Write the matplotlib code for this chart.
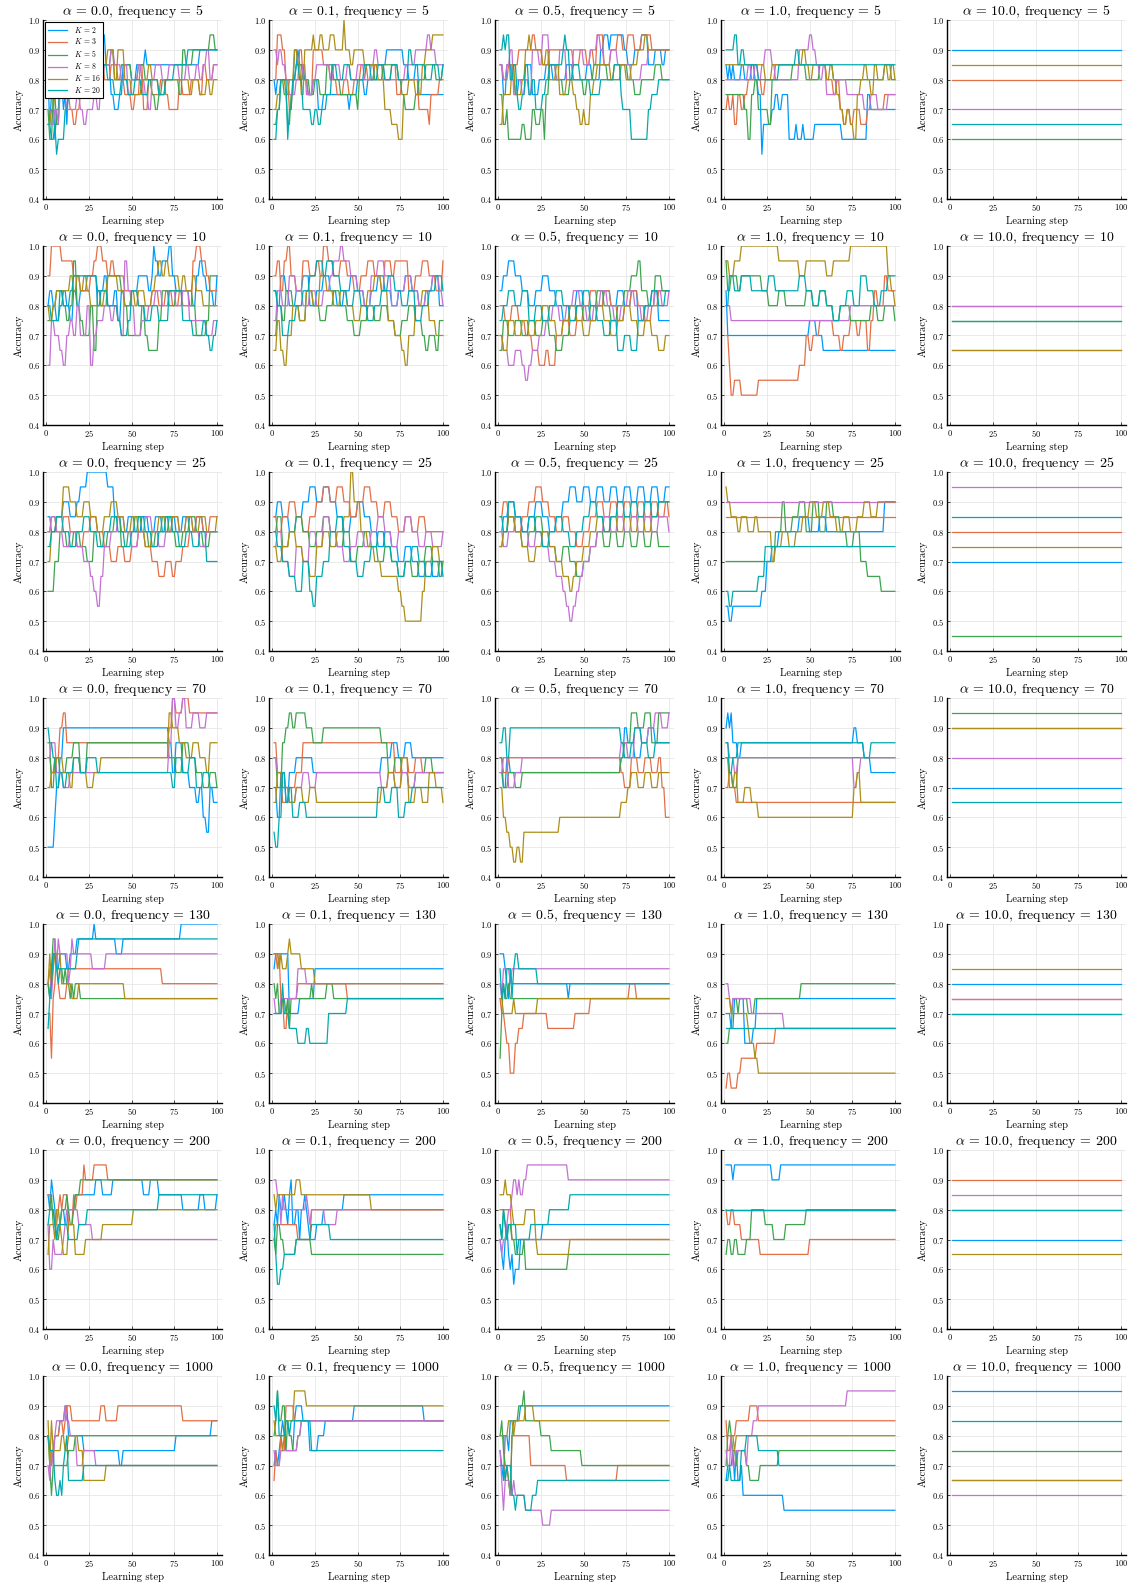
import numpy as np
import matplotlib
matplotlib.use("Agg")
import matplotlib.pyplot as plt

plt.rcParams.update({
    "font.family": "serif",
    "font.serif": ["cmr10"],
    "mathtext.fontset": "cm",
    "axes.formatter.use_mathtext": True,
})

alphas = [0.0, 0.1, 0.5, 1.0, 10.0]
frequencies = [5, 10, 25, 70, 130, 200, 1000]
K_values = [2, 3, 5, 8, 16, 20]
colors = ["#009AFA", "#E36F47", "#3EA44E", "#C371D2", "#AC8E18", "#00AAAE"]
steps = np.arange(1, 101)

# accuracy per run, as (learning step, accuracy %) change points, one list per K

# ---- frequency = 5 ----
acc_a00_f5 = [
    [(1,80),(2,65),(3,75),(5,60),(6,70),(8,80),(10,70),(11,75),(12,65),(13,80),(15,85),(20,80),(25,85),(32,90),(34,95),(35,85),(38,75),(40,70),(43,75),(45,85),(50,80),(53,85),(58,90),(59,85),(90,90)],
    [(1,75),(3,80),(5,85),(8,80),(10,75),(14,70),(16,65),(18,70),(20,75),(25,80),(28,85),(32,90),(34,80),(38,85),(42,80),(46,75),(50,70),(52,75),(55,85),(57,70),(60,80),(62,75),(67,80),(70,75),(72,70),(78,80),(80,75),(85,80),(90,75),(92,85),(94,80),(98,85)],
    [(1,70),(2,60),(4,75),(6,65),(8,80),(10,85),(14,80),(18,85),(22,80),(30,85),(38,90),(40,80),(44,85),(50,80),(54,85),(58,80),(62,75),(64,70),(66,75),(68,80),(78,75),(80,90),(82,85),(86,90),(96,95),(99,90)],
    [(1,70),(3,65),(5,70),(7,65),(8,75),(12,70),(18,75),(20,70),(22,65),(24,70),(28,75),(30,70),(32,80),(34,85),(38,90),(40,85),(44,80),(46,85),(48,75),(50,80),(54,85),(56,80),(58,75),(60,70),(62,80),(64,85),(68,80),(72,85),(78,80),(82,85),(84,80),(88,85),(90,80),(92,85),(94,90),(96,80),(98,85)],
    [(1,65),(3,70),(5,75),(8,80),(10,85),(14,80),(18,75),(22,80),(26,85),(36,90),(40,80),(42,90),(46,80),(50,75),(56,80),(60,85),(62,80),(66,75),(70,80),(84,75),(86,80),(90,75),(94,80),(96,75),(98,80)],
    [(1,65),(3,60),(5,65),(6,55),(7,60),(11,70),(13,75),(16,80),(20,85),(24,80),(32,85),(36,80),(40,75),(44,80),(48,75),(52,80),(56,75),(60,80),(66,75),(70,80),(75,85),(83,90)],
]
acc_a01_f5 = [
    [(1,80),(2,75),(3,80),(14,85),(15,90),(16,85),(19,80),(21,75),(24,80),(27,70),(30,75),(45,70),(46,75),(50,80),(54,75),(56,80),(60,85),(67,90),(77,85),(80,80),(84,85),(86,75)],
    [(1,80),(3,95),(6,90),(8,80),(10,70),(12,80),(16,90),(18,80),(21,75),(24,90),(30,85),(34,80),(38,75),(42,80),(45,75),(48,80),(52,85),(56,80),(60,85),(65,80),(70,85),(73,75),(76,80),(86,70),(92,65),(93,75),(98,80)],
    [(1,65),(3,70),(5,80),(7,75),(9,65),(11,75),(13,90),(15,85),(18,80),(22,75),(25,80),(28,75),(32,85),(36,80),(40,75),(50,70),(51,80),(55,85),(60,80),(65,85),(74,80),(76,75),(78,70),(84,75),(86,80),(90,85),(96,80),(100,85)],
    [(1,90),(3,85),(4,90),(6,85),(8,80),(10,75),(14,80),(18,85),(20,75),(24,80),(26,85),(34,80),(36,85),(40,80),(44,85),(46,80),(50,85),(54,80),(58,85),(60,90),(62,85),(66,80),(78,85),(84,90),(91,95),(93,90),(96,85)],
    [(1,70),(3,75),(5,80),(8,75),(10,80),(13,90),(15,85),(17,75),(19,90),(24,95),(25,90),(28,95),(30,90),(34,95),(37,90),(42,100),(43,90),(46,85),(48,90),(54,85),(62,80),(66,70),(70,65),(74,60),(77,75),(80,80),(84,75),(88,85),(90,90),(94,95)],
    [(1,60),(3,70),(5,80),(9,60),(10,70),(12,80),(14,85),(16,80),(18,70),(23,65),(25,70),(27,65),(29,70),(32,75),(35,85),(38,80),(42,85),(46,80),(54,85),(58,80),(62,85),(66,80),(70,85),(74,80),(80,90),(82,85),(90,80),(94,85),(98,80),(100,85)],
]
acc_a05_f5 = [
    [(1,85),(3,75),(5,85),(8,80),(10,75),(12,80),(16,85),(20,75),(24,80),(28,85),(32,80),(40,85),(44,80),(52,85),(55,80),(60,90),(62,95),(65,90),(66,95),(74,90),(76,85),(80,90),(84,95),(88,85),(92,90),(96,85),(98,90)],
    [(1,85),(3,80),(6,85),(12,90),(20,95),(22,90),(26,85),(30,90),(44,85),(48,90),(52,85),(54,90),(56,85),(58,95),(62,85),(66,90),(70,95),(73,90),(76,95),(80,90),(84,95),(90,90)],
    [(1,75),(3,65),(5,70),(6,60),(14,65),(16,60),(20,70),(22,65),(25,70),(27,60),(28,75),(30,85),(34,80),(38,75),(42,80),(50,75),(52,80),(56,85),(64,80),(72,85),(76,80),(80,75),(84,80),(92,85),(96,80)],
    [(1,85),(3,80),(5,85),(7,90),(9,75),(11,80),(14,75),(16,80),(18,75),(20,90),(24,85),(26,95),(30,85),(34,80),(36,90),(40,80),(44,90),(50,85),(54,90),(58,95),(60,90),(62,85),(66,90),(70,85),(78,80),(84,85),(88,90)],
    [(1,65),(3,75),(8,85),(10,75),(14,80),(16,90),(18,95),(19,90),(26,85),(28,90),(30,80),(34,85),(36,75),(40,80),(44,75),(46,70),(48,65),(50,70),(51,65),(54,75),(56,80),(58,85),(66,80),(68,85),(75,80),(78,85),(82,90),(86,95),(88,90)],
    [(1,90),(3,95),(4,90),(5,95),(7,80),(9,85),(11,75),(12,70),(14,75),(16,85),(18,75),(20,80),(22,70),(26,75),(28,80),(30,85),(38,90),(39,95),(40,90),(42,80),(44,85),(48,80),(54,75),(60,80),(68,85),(72,75),(73,70),(78,60),(88,70),(90,75),(94,80)],
]
acc_a10_f5 = [
    [(1,85),(2,80),(3,85),(4,80),(5,85),(6,80),(10,85),(12,80),(16,85),(18,80),(20,75),(22,55),(23,65),(28,70),(30,75),(32,70),(34,75),(38,60),(42,65),(43,60),(46,65),(47,60),(53,65),(69,60),(84,75),(86,70)],
    [(1,70),(2,75),(3,70),(5,75),(6,65),(8,75),(10,70),(12,75),(14,80),(22,75),(24,80),(30,85),(60,80),(64,75),(66,80),(68,70),(70,65),(72,70),(74,65),(76,70),(80,65),(84,70),(94,75)],
    [(1,75),(12,70),(14,60),(16,75),(18,80),(20,70),(26,65),(28,80),(40,85),(48,80),(56,85),(64,80),(94,85),(98,80)],
    [(1,80),(14,85),(16,80),(18,85),(20,80),(22,85),(24,90),(28,85),(30,80),(44,90),(50,95),(52,90),(54,85),(56,80),(58,85),(60,75),(66,80),(72,75),(82,70),(86,75),(90,70),(96,75)],
    [(1,85),(24,80),(28,85),(46,90),(48,85),(50,80),(52,85),(60,80),(62,85),(64,80),(66,75),(68,70),(70,65),(72,70),(74,65),(76,60),(78,75),(80,80),(82,85),(84,80),(86,75),(88,85),(90,80),(94,85),(96,80),(98,85),(100,80)],
    [(1,90),(6,95),(8,85),(10,90),(12,85),(20,80),(32,85),(42,90),(44,85)],
]
acc_a100_f5 = [[(1,90)], [(1,80)], [(1,60)], [(1,70)], [(1,85)], [(1,65)]]

# ---- frequency = 10 ----
acc_a00_f10 = [
    [(1,80),(2,85),(4,80),(6,75),(8,80),(10,85),(12,80),(14,75),(16,85),(18,80),(20,85),(24,90),(30,80),(32,85),(34,90),(36,80),(40,85),(42,75),(44,85),(46,80),(50,85),(54,90),(60,85),(62,90),(63,100),(64,95),(66,90),(68,95),(72,100),(74,90),(76,85),(84,80),(88,90),(90,95),(92,90),(94,85),(98,80),(100,90)],
    [(1,90),(3,100),(9,95),(16,90),(20,85),(26,90),(28,95),(30,100),(33,95),(36,90),(38,95),(40,90),(46,85),(54,80),(62,85),(66,80),(70,85),(74,80),(78,85),(80,80),(86,95),(88,100),(91,95),(94,90),(96,85)],
    [(1,75),(4,80),(6,85),(10,80),(12,75),(14,80),(16,95),(18,80),(20,75),(22,70),(26,80),(28,65),(30,85),(32,80),(36,90),(44,85),(46,80),(48,70),(56,80),(58,70),(60,65),(66,75),(68,85),(72,80),(76,85),(86,80),(88,70),(94,75),(96,90)],
    [(1,60),(3,75),(5,70),(8,65),(10,60),(12,70),(14,75),(16,70),(18,80),(20,70),(24,80),(26,60),(28,70),(30,75),(34,80),(38,75),(40,80),(42,75),(44,70),(46,95),(48,85),(50,80),(52,70),(56,75),(60,80),(64,85),(68,80),(72,85),(76,80),(80,85),(84,75),(94,70),(98,75)],
    [(1,80),(2,75),(4,80),(6,85),(14,90),(16,85),(18,90),(20,85),(22,90),(24,85),(26,80),(34,85),(36,90),(42,85),(46,80),(50,85),(52,80),(54,85),(58,80),(62,85),(64,90),(66,95),(68,90),(70,95),(72,90),(78,85),(80,90),(82,85),(86,90),(88,85),(92,80)],
    [(1,80),(3,75),(8,85),(10,80),(14,85),(16,90),(30,85),(36,80),(42,75),(44,70),(48,75),(50,85),(54,80),(58,75),(62,80),(66,75),(72,85),(80,75),(86,70),(92,75),(94,70),(96,65),(98,70),(100,75)],
]
acc_a01_f10 = [
    [(1,85),(3,80),(5,90),(8,85),(10,80),(14,85),(18,90),(22,80),(26,85),(30,90),(34,85),(38,80),(42,85),(46,90),(50,85),(54,80),(58,85),(62,90),(66,85),(70,80),(74,85),(78,90),(82,85),(86,80),(90,85),(94,90),(98,80)],
    [(1,90),(3,95),(5,85),(7,95),(9,100),(11,90),(14,85),(18,95),(22,90),(26,95),(28,90),(30,100),(33,95),(36,90),(40,95),(44,90),(48,85),(52,90),(56,95),(60,90),(64,85),(66,95),(70,90),(72,95),(80,85),(84,90),(88,95),(92,90),(96,85),(100,95)],
    [(1,70),(3,80),(6,75),(8,85),(12,80),(16,75),(20,85),(24,80),(28,75),(32,80),(36,85),(40,80),(44,75),(48,70),(52,75),(56,80),(60,75),(64,80),(68,75),(72,70),(76,75),(80,80),(84,75),(88,70),(90,65),(92,70),(96,65),(98,75)],
    [(1,75),(3,85),(6,80),(10,90),(14,85),(18,80),(22,85),(26,80),(30,85),(34,90),(36,95),(40,100),(42,95),(46,90),(50,85),(54,80),(58,90),(62,95),(66,90),(70,80),(74,85),(78,90),(82,85),(86,80),(90,85),(94,90),(98,85),(100,80)],
    [(1,65),(3,75),(5,65),(7,60),(9,70),(12,80),(16,75),(20,85),(24,80),(28,90),(32,85),(36,80),(40,85),(44,80),(48,75),(52,80),(56,85),(60,90),(64,85),(68,75),(72,70),(76,65),(78,60),(80,70),(84,80),(88,85),(92,75),(96,70)],
    [(1,85),(3,80),(6,70),(10,75),(14,80),(18,85),(22,90),(26,95),(30,90),(32,95),(36,90),(40,85),(44,80),(48,85),(52,80),(56,75),(60,80),(64,85),(68,90),(72,85),(76,80),(80,85),(84,75),(88,80),(92,85),(96,90),(100,85)],
]
acc_a05_f10 = [
    [(1,85),(3,90),(6,95),(10,90),(14,85),(18,80),(22,85),(26,90),(30,85),(34,80),(38,75),(42,80),(46,85),(50,80),(54,75),(58,80),(62,85),(66,80),(70,85),(74,80),(78,85),(82,75),(86,80),(90,85),(94,75)],
    [(1,80),(4,75),(8,80),(12,75),(16,70),(20,65),(24,60),(28,65),(30,60),(34,70),(38,75),(42,70),(46,75),(50,80),(54,85),(58,80),(62,85),(66,80),(70,75),(74,80),(78,85),(82,80),(86,75),(90,80),(94,85)],
    [(1,65),(3,75),(6,70),(10,75),(14,70),(18,75),(22,70),(26,75),(30,70),(34,65),(38,70),(42,75),(46,80),(50,75),(54,80),(58,85),(62,80),(66,75),(70,80),(74,85),(78,90),(82,95),(84,85),(88,80),(92,90),(96,85)],
    [(1,70),(3,65),(6,60),(10,65),(14,60),(16,55),(18,60),(20,65),(24,70),(28,75),(32,80),(36,75),(40,80),(44,85),(48,80),(52,75),(56,80),(60,85),(64,80),(68,75),(72,80),(76,85),(80,80),(84,75),(88,80),(92,85),(96,80),(100,85)],
    [(1,70),(3,65),(6,75),(10,70),(14,75),(18,70),(22,75),(26,80),(30,75),(34,70),(38,75),(42,80),(46,75),(50,70),(54,75),(58,80),(62,75),(66,70),(70,75),(74,80),(78,75),(82,70),(86,75),(90,70),(94,65),(98,70)],
    [(1,75),(3,80),(6,85),(10,80),(14,85),(18,75),(22,80),(26,75),(30,80),(34,85),(38,80),(42,75),(46,80),(50,85),(54,80),(58,75),(62,70),(66,75),(70,65),(74,70),(78,65),(82,75),(86,80),(90,85),(94,80),(98,85)],
]
acc_a10_f10 = [
    [(1,85),(2,70),(48,70),(50,75),(54,70),(58,65)],
    [(1,70),(3,60),(4,50),(6,55),(10,50),(20,55),(44,60),(48,70),(50,65),(52,70),(56,75),(64,70),(68,65),(70,70),(74,75),(78,70),(80,75),(84,65),(86,75),(88,85),(90,80),(94,90),(96,85)],
    [(1,95),(2,85),(4,90),(8,85),(10,90),(22,85),(26,80),(32,85),(36,80),(48,85),(52,80),(56,85),(60,80),(64,75),(68,80),(74,75),(86,80),(90,75),(94,80),(100,75)],
    [(1,80),(4,75),(74,80)],
    [(1,95),(3,90),(6,95),(10,100),(32,95),(44,90),(48,95),(60,90),(64,95),(74,100),(96,90),(98,85),(100,80)],
    [(1,80),(3,90),(6,85),(10,90),(16,85),(26,90),(30,85),(44,90),(48,85),(52,80),(56,85),(60,80),(64,75),(68,80),(72,85),(76,80),(80,90),(84,85),(88,80),(92,85),(96,90)],
]
acc_a100_f10 = [[(1,80)], [(1,65)], [(1,75)], [(1,80)], [(1,65)], [(1,75)]]

# ---- frequency = 25 ----
acc_a00_f25 = [
    [(1,85),(3,80),(6,85),(10,90),(14,85),(18,90),(20,95),(24,100),(36,95),(40,85),(44,80),(48,85),(52,80),(56,85),(60,80),(64,85),(68,80),(72,85),(76,80),(80,85),(84,80),(88,85),(92,80)],
    [(1,80),(3,85),(6,80),(10,85),(14,80),(18,75),(22,80),(26,85),(30,80),(34,75),(38,70),(42,75),(46,70),(50,75),(54,80),(58,75),(62,70),(66,65),(70,70),(74,65),(76,70),(80,75),(84,80),(88,85),(92,80),(96,85)],
    [(1,60),(5,70),(8,80),(12,75),(16,80),(20,75),(24,70),(28,80),(32,75),(36,80),(40,85),(44,75),(48,80),(52,85),(56,80),(60,75),(64,80),(68,85),(72,80),(76,75),(80,80),(84,85),(88,80),(92,75),(96,80)],
    [(1,80),(3,85),(6,80),(10,75),(14,80),(18,75),(22,70),(26,65),(28,60),(30,55),(32,65),(34,75),(38,80),(42,85),(46,80),(50,75),(54,80),(58,85),(62,80),(66,75),(70,80),(74,85),(78,80),(82,85),(86,80),(90,75),(94,80)],
    [(1,70),(3,80),(6,85),(10,95),(14,90),(18,85),(22,90),(26,85),(30,80),(34,85),(38,90),(42,85),(46,80),(50,85),(54,80),(58,75),(62,80),(66,85),(70,80),(74,85),(78,80),(82,85),(86,80),(90,85),(94,80),(100,85)],
    [(1,75),(3,80),(6,85),(10,80),(14,75),(18,80),(22,85),(26,80),(30,75),(34,80),(38,85),(42,80),(46,75),(50,80),(54,85),(58,80),(62,75),(66,80),(70,85),(74,80),(78,75),(82,80),(86,75),(90,80),(94,70)],
]
acc_a01_f25 = [
    [(1,85),(3,90),(6,85),(10,80),(14,85),(18,90),(22,95),(26,90),(30,95),(34,90),(38,85),(42,80),(46,85),(50,90),(54,85),(58,80),(62,75),(66,80),(70,75),(74,70),(78,75),(82,70),(86,65),(90,70),(94,65),(98,70)],
    [(1,85),(3,80),(6,85),(10,90),(14,85),(18,80),(22,85),(26,90),(30,95),(34,90),(38,95),(42,90),(46,85),(50,90),(54,95),(58,90),(62,85),(66,90),(70,85),(74,80),(78,85),(82,80),(86,85),(90,80)],
    [(1,80),(3,85),(6,75),(10,80),(14,85),(18,80),(22,75),(26,80),(30,85),(34,80),(38,75),(42,80),(46,70),(50,75),(54,80),(58,75),(62,70),(66,75),(70,70),(74,65),(78,70),(82,65),(86,70),(90,75),(94,70),(98,65),(100,70)],
    [(1,75),(3,80),(6,70),(10,65),(14,75),(18,70),(22,80),(26,75),(30,85),(34,80),(38,75),(42,70),(46,75),(50,80),(54,75),(58,80),(62,85),(66,80),(70,75),(74,80),(78,85),(82,80),(86,75),(90,80),(94,75),(100,80)],
    [(1,75),(3,70),(6,75),(10,80),(14,75),(18,70),(22,65),(26,75),(30,80),(34,75),(38,80),(42,85),(46,100),(48,90),(52,80),(56,75),(60,70),(64,65),(74,60),(76,55),(78,50),(88,60),(90,70),(94,75),(98,70)],
    [(1,80),(3,75),(6,70),(10,65),(14,60),(18,70),(22,60),(24,55),(26,65),(30,70),(34,80),(38,85),(42,75),(46,70),(50,65),(54,70),(58,75),(62,80),(66,75),(70,70),(74,65),(78,70),(82,75),(86,70),(90,65),(94,70),(100,65)],
]
acc_a05_f25 = [
    [(1,80),(3,85),(6,90),(10,85),(14,80),(18,85),(22,90),(26,85),(30,80),(34,85),(38,90),(42,95),(46,90),(50,95),(54,90),(58,95),(62,90),(66,95),(70,90),(74,95),(78,90),(82,95),(86,90),(90,95),(94,90),(98,95)],
    [(1,85),(3,90),(6,85),(10,80),(14,85),(18,90),(22,95),(26,90),(30,85),(34,80),(38,85),(42,80),(46,75),(50,80),(54,85),(58,90),(62,85),(66,90),(70,85),(74,90),(78,85),(82,90),(86,85),(90,90),(94,85),(98,90),(100,85)],
    [(1,75),(3,80),(6,85),(10,80),(14,75),(18,80),(22,85),(26,80),(30,75),(34,70),(38,75),(42,70),(46,65),(50,70),(54,75),(58,80),(62,75),(66,80),(70,75),(74,80),(78,75),(82,80),(86,75),(90,80),(94,75)],
    [(1,80),(3,75),(6,80),(10,85),(14,80),(18,75),(22,80),(26,75),(30,70),(34,65),(38,60),(40,55),(42,50),(44,55),(46,60),(48,65),(50,70),(54,75),(58,80),(62,85),(66,80),(70,85),(74,80),(78,85),(82,80),(86,85),(90,80),(94,85),(100,80)],
    [(1,75),(3,80),(6,85),(10,80),(14,75),(18,70),(22,75),(26,80),(30,75),(34,70),(38,65),(42,60),(44,65),(46,70),(50,75),(54,80),(58,85),(62,80),(66,85),(70,80),(74,85),(78,80),(82,85),(86,80),(90,85),(94,90)],
    [(1,85),(3,80),(6,90),(10,85),(14,80),(18,85),(22,80),(26,75),(30,80),(34,85),(38,80),(42,75),(46,80),(50,85),(54,90),(58,85),(62,80),(66,85),(70,90),(74,85),(78,90),(82,85),(86,90),(90,85),(94,90)],
]
acc_a10_f25 = [
    [(1,55),(3,50),(5,55),(22,60),(25,70),(28,75),(32,80),(44,85),(50,80),(56,85),(60,80),(94,90)],
    [(1,85)],
    [(1,70),(30,80),(34,90),(36,80),(40,85),(44,90),(48,80),(52,90),(56,80),(60,90),(64,85),(68,80),(72,75),(76,80),(80,70),(84,65),(92,60)],
    [(1,90)],
    [(1,95),(2,90),(4,85),(8,80),(10,85),(14,80),(18,85),(20,80),(28,70),(30,75),(34,80),(38,75),(42,80),(46,85),(50,90),(54,85),(58,90),(62,85),(66,80),(70,85),(74,80),(78,85),(82,90),(86,85),(90,90)],
    [(1,60),(3,55),(5,60),(20,65),(24,75)],
]
acc_a100_f25 = [[(1,70)], [(1,80)], [(1,45)], [(1,95)], [(1,75)], [(1,85)]]

# ---- frequency = 70 ----
acc_a00_f70 = [
    [(1,50),(5,60),(6,70),(8,80),(10,90),(72,85),(74,75),(76,85),(80,75),(84,70),(88,65),(90,70),(92,60),(94,55),(96,70),(98,65)],
    [(1,80),(3,75),(5,80),(8,90),(10,95),(12,85),(72,90),(74,100),(76,95),(80,100),(84,95)],
    [(1,85),(3,70),(5,80),(8,75),(12,80),(16,85),(20,75),(24,85),(72,80),(76,75),(80,85),(84,80),(88,75),(92,70),(96,75),(100,70)],
    [(1,80),(3,85),(6,75),(10,70),(14,75),(72,85),(74,100),(76,90),(78,95),(80,100),(82,90),(86,95),(90,90),(94,95)],
    [(1,70),(3,75),(6,80),(10,75),(14,70),(16,80),(20,75),(24,70),(28,75),(32,80),(72,95),(74,90),(78,85),(82,80),(86,85),(90,80),(94,75),(96,85)],
    [(1,90),(2,85),(4,80),(6,70),(8,75),(10,70),(12,75),(16,80),(20,75),(24,80),(30,75),(74,70),(76,80),(80,75),(84,80),(88,70),(92,75),(96,70)],
]
acc_a01_f70 = [
    [(1,70),(3,60),(5,75),(8,65),(10,75),(14,80),(24,75),(64,80),(70,85),(74,80),(78,85),(82,80)],
    [(1,85),(3,75),(6,65),(10,70),(14,75),(18,85),(72,75),(76,80),(80,75),(84,80),(88,75)],
    [(1,80),(3,70),(6,85),(8,90),(10,95),(12,90),(14,95),(20,90),(24,85),(30,90),(64,85),(68,75),(72,80),(76,75),(80,70),(84,75),(90,80),(94,75)],
    [(1,80),(3,75),(6,70),(10,65),(14,70),(18,75),(22,70),(26,75),(64,70),(68,75),(72,70),(76,75),(80,70),(84,75)],
    [(1,65),(3,75),(6,70),(10,65),(14,70),(18,65),(22,70),(26,65),(64,70),(68,75),(72,70),(76,80),(80,65),(84,70),(88,65),(92,75),(96,70),(100,65)],
    [(1,55),(2,50),(4,60),(6,75),(8,65),(10,70),(12,60),(16,65),(20,60),(62,70),(66,65),(70,70),(74,60),(78,65),(82,70)],
]
acc_a05_f70 = [
    [(1,75),(3,70),(5,80),(7,75),(72,80),(74,90),(76,85),(80,80),(84,85),(88,90),(92,85)],
    [(1,80),(3,75),(6,80),(72,75),(74,70),(78,80),(82,75),(86,80),(90,75),(94,80),(96,70),(98,60)],
    [(1,80),(3,70),(6,75),(10,70),(14,75),(72,80),(74,85),(78,95),(82,90),(86,95),(90,85),(94,95)],
    [(1,75),(3,80),(6,70),(10,75),(14,80),(72,85),(76,80),(80,90),(84,85),(88,90),(92,95),(96,90),(100,95)],
    [(1,70),(3,60),(5,55),(7,50),(9,45),(11,50),(13,45),(15,55),(36,60),(72,65),(76,70),(78,75),(82,70),(86,75),(90,70),(94,75)],
    [(1,85),(3,90),(5,80),(7,90),(72,85),(74,80),(78,85),(80,90),(84,85),(88,80),(92,85)],
]
acc_a10_f70 = [
    [(1,90),(2,95),(3,90),(4,95),(5,85),(8,80),(10,85),(76,90),(78,85),(82,80),(86,75)],
    [(1,70),(3,75),(5,70),(7,65)],
    [(1,80),(3,75),(5,70),(8,80)],
    [(1,85),(3,80),(6,75),(8,80),(76,70),(78,75),(80,80)],
    [(1,80),(3,70),(6,75),(8,65),(12,70),(16,65),(20,60),(76,70),(78,75),(80,65)],
    [(1,85),(3,75),(5,80),(8,85),(82,80),(86,85)],
]
acc_a100_f70 = [[(1,70)], [(1,90)], [(1,95)], [(1,80)], [(1,90)], [(1,65)]]

# ---- frequency = 130 ----
acc_a00_f130 = [
    [(1,80),(2,75),(3,85),(4,90),(6,85),(8,90),(12,85),(14,90),(18,95),(28,100),(29,95),(41,90),(45,95),(79,100)],
    [(1,70),(3,55),(4,75),(5,80),(6,90),(7,80),(8,75),(12,80),(13,85),(68,80)],
    [(1,80),(2,75),(3,85),(4,95),(6,85),(10,80),(11,85),(12,80),(14,75),(15,80),(16,75),(17,80),(20,75)],
    [(1,80),(2,85),(3,75),(4,85),(5,95),(6,85),(7,95),(8,90),(13,80),(14,85),(15,95),(16,90),(27,85),(35,90)],
    [(1,80),(2,90),(3,80),(4,85),(5,90),(9,80),(15,75),(19,80),(46,75)],
    [(1,65),(2,75),(3,80),(4,90),(6,85),(7,80),(8,85),(18,90),(19,95)],
]
acc_a01_f130 = [
    [(1,85),(2,90),(10,70),(16,75),(25,85)],
    [(1,90),(3,85),(4,90),(5,75),(7,65),(9,75),(15,80),(44,75)],
    [(1,80),(2,75),(3,80),(4,70),(6,75),(8,70),(9,75),(10,65),(11,75),(23,80),(24,75),(32,80),(36,75)],
    [(1,75),(2,70),(5,75),(15,85),(20,80)],
    [(1,90),(4,85),(5,90),(6,85),(9,90),(10,95),(11,90),(17,85),(25,80)],
    [(1,70),(6,80),(7,70),(10,65),(15,60),(20,65),(22,60),(33,70),(44,75)],
]
acc_a05_f130 = [
    [(1,90),(4,85),(5,80),(6,75),(7,85),(8,80),(41,75),(42,80)],
    [(1,75),(2,70),(4,65),(5,60),(7,50),(10,60),(12,65),(15,70),(29,65),(45,70),(54,75),(77,80),(81,75)],
    [(1,55),(2,70),(3,80),(4,75),(6,80),(7,75)],
    [(1,80),(2,75),(3,85),(7,80),(8,85)],
    [(1,75),(3,70),(9,75),(10,70),(23,75)],
    [(1,85),(2,75),(3,80),(4,75),(5,85),(8,75),(9,85),(10,90),(12,85),(23,80)],
]
acc_a10_f130 = [
    [(1,70),(4,65),(6,75),(12,60),(17,65),(19,75)],
    [(1,45),(2,50),(4,45),(8,50),(10,55),(19,60),(30,65)],
    [(1,60),(3,65),(5,75),(8,70),(9,75),(14,70),(18,75),(45,80)],
    [(1,80),(3,75),(4,70),(5,75),(16,70),(35,65)],
    [(1,75),(4,70),(14,65),(15,60),(18,55),(20,50)],
    [(1,65)],
]
acc_a100_f130 = [[(1,80)], [(1,75)], [(1,70)], [(1,75)], [(1,85)], [(1,70)]]

# ---- frequency = 200 ----
acc_a00_f200 = [
    [(1,85),(2,80),(3,90),(4,85),(5,80),(6,70),(7,75),(9,80),(11,75),(13,80),(17,85),(29,90),(33,85),(39,90),(57,85),(61,90),(66,85),(80,80),(90,85),(93,80),(100,85)],
    [(1,85),(3,80),(5,75),(7,80),(8,85),(9,80),(10,85),(13,75),(16,85),(17,80),(18,85),(22,95),(23,90),(28,95),(36,90)],
    [(1,80),(3,85),(4,75),(6,70),(8,75),(9,80),(12,85),(13,80),(14,75),(16,80),(17,85),(20,90)],
    [(1,75),(2,60),(4,70),(5,65),(10,70),(11,75),(12,80),(19,75),(27,70)],
    [(1,65),(2,75),(5,70),(6,80),(8,75),(9,70),(10,65),(13,75),(17,65),(23,70),(33,75),(51,80)],
    [(1,75),(2,80),(5,75),(6,70),(7,75),(13,70),(19,75),(24,80),(66,85)],
]
acc_a01_f200 = [
    [(1,75),(2,80),(3,75),(4,85),(5,80),(7,85),(8,80),(9,75),(10,85),(11,90),(12,75),(14,80),(16,70),(17,80),(19,85),(20,80),(21,75),(22,70),(26,75),(30,80),(42,85)],
    [(1,70),(2,75),(15,70),(23,80)],
    [(1,70),(2,65),(3,75),(5,70),(7,65),(14,70),(23,65)],
    [(1,90),(3,85),(5,75),(6,85),(7,80),(20,85),(21,80),(22,75),(23,80),(31,75),(38,80)],
    [(1,85),(2,80),(3,85),(14,90),(17,85),(58,80)],
    [(1,75),(2,65),(3,55),(5,60),(7,65),(14,70),(23,75),(34,70)],
]
acc_a05_f200 = [
    [(1,70),(2,65),(3,60),(4,70),(5,75),(6,65),(7,60),(8,65),(9,55),(10,60),(13,70),(26,75)],
    [(1,80),(8,70)],
    [(1,75),(2,70),(3,80),(4,75),(5,70),(6,75),(8,70),(10,65),(15,70),(16,60),(41,65)],
    [(1,70),(2,65),(3,70),(5,75),(6,80),(8,85),(9,90),(11,85),(12,90),(13,85),(15,90),(17,95),(41,90)],
    [(1,85),(4,90),(5,85),(8,80),(9,75),(16,80),(22,70),(23,65),(42,70)],
    [(1,75),(2,70),(3,80),(4,75),(5,70),(6,75),(11,65),(12,70),(19,75),(30,80),(42,85)],
]
acc_a10_f200 = [
    [(1,95),(5,90),(6,95),(28,90),(33,95)],
    [(1,80),(2,75),(4,80),(6,75),(10,70),(21,65),(50,70)],
    [(1,65),(2,70),(4,65),(6,70),(8,65),(13,70),(16,80),(24,75),(29,70),(36,75),(48,80)],
    [(1,80)],
    [(1,80)],
    [(1,80)],
]
acc_a100_f200 = [[(1,70)], [(1,90)], [(1,80)], [(1,85)], [(1,65)], [(1,80)]]

# ---- frequency = 1000 ----
acc_a00_f1000 = [
    [(1,80),(2,75),(5,80),(8,85),(11,90),(13,80),(22,75),(43,70),(45,75),(76,80),(97,85)],
    [(1,80),(2,75),(3,70),(4,75),(5,80),(8,85),(10,80),(11,85),(12,90),(15,85),(32,90),(35,85),(42,90),(80,85)],
    [(1,80),(2,70),(3,60),(4,70),(13,75),(17,80)],
    [(1,70),(2,65),(3,75),(4,70),(5,80),(6,85),(11,90),(12,85),(14,80),(18,70),(22,75),(29,70)],
    [(1,85),(2,70),(3,85),(4,75),(9,80),(11,75),(13,80),(19,75),(22,65),(35,70)],
    [(1,80),(2,75),(5,65),(6,60),(8,65),(9,60),(10,70),(11,75),(12,80),(13,65),(22,70)],
]
acc_a01_f1000 = [
    [(1,70),(2,75),(3,70),(4,75),(5,80),(6,85),(7,80),(8,75),(13,85),(14,90),(18,85),(22,75),(27,80),(31,85),(48,90),(89,85)],
    [(1,65),(2,75),(3,70),(5,80),(6,75),(8,90),(13,85)],
    [(1,80),(2,85),(3,95),(4,85),(6,90),(8,75),(9,85),(10,80),(12,75),(15,80),(17,85)],
    [(1,75),(2,70),(5,75),(15,80),(17,85)],
    [(1,85),(2,80),(6,75),(7,80),(8,85),(13,95),(20,90)],
    [(1,90),(2,85),(3,95),(4,80),(8,85),(10,80),(11,85),(23,75)],
]
acc_a05_f1000 = [
    [(1,75),(2,70),(3,65),(4,80),(6,75),(7,85),(13,90)],
    [(1,80),(4,65),(5,70),(6,65),(7,60),(8,80),(19,70),(40,65),(70,70)],
    [(1,80),(2,85),(3,75),(4,70),(6,65),(7,60),(8,80),(9,85),(12,90),(15,95),(16,85),(25,80),(31,75),(49,70)],
    [(1,75),(2,65),(3,55),(4,65),(7,60),(9,65),(10,60),(16,55),(26,50),(31,55)],
    [(1,80),(6,85),(9,80),(10,85),(16,90),(21,85)],
    [(1,70),(4,65),(5,70),(8,60),(10,55),(11,60),(16,55),(20,60),(23,65)],
]
acc_a10_f1000 = [
    [(1,65),(2,70),(5,75),(6,65),(7,75),(8,65),(10,70),(11,60),(35,55)],
    [(1,85),(2,75),(4,80),(7,85),(15,90),(20,85)],
    [(1,70),(2,80),(3,85),(4,80),(5,75),(7,70),(8,75),(13,70),(15,65),(21,70),(32,75)],
    [(1,75),(2,70),(4,80),(5,70),(7,75),(13,70),(14,80),(17,85),(20,90),(72,95)],
    [(1,80),(6,75),(7,80)],
    [(1,65),(3,70),(4,65),(10,75),(13,80),(20,75),(32,70)],
]
acc_a100_f1000 = [[(1,95)], [(1,65)], [(1,75)], [(1,60)], [(1,65)], [(1,85)]]

panels = [
    [acc_a00_f5, acc_a01_f5, acc_a05_f5, acc_a10_f5, acc_a100_f5],
    [acc_a00_f10, acc_a01_f10, acc_a05_f10, acc_a10_f10, acc_a100_f10],
    [acc_a00_f25, acc_a01_f25, acc_a05_f25, acc_a10_f25, acc_a100_f25],
    [acc_a00_f70, acc_a01_f70, acc_a05_f70, acc_a10_f70, acc_a100_f70],
    [acc_a00_f130, acc_a01_f130, acc_a05_f130, acc_a10_f130, acc_a100_f130],
    [acc_a00_f200, acc_a01_f200, acc_a05_f200, acc_a10_f200, acc_a100_f200],
    [acc_a00_f1000, acc_a01_f1000, acc_a05_f1000, acc_a10_f1000, acc_a100_f1000],
]


def expand(changes):
    # hold each accuracy until the next change point
    vals = np.empty(len(steps))
    for step, acc in changes:
        vals[step - 1:] = acc / 100
    return vals


W, H = 1131, 1589
fig = plt.figure(figsize=(W / 100, H / 100), dpi=100)

for r, freq in enumerate(frequencies):
    for c, alpha in enumerate(alphas):
        left, top, w, h = 43 + 226 * c, 20 + 226 * r, 179, 179
        ax = fig.add_axes([left / W, 1 - (top + h) / H, w / W, h / H])
        for k, changes in enumerate(panels[r][c]):
            ax.plot(steps, expand(changes), color=colors[k], lw=0.9,
                    label=rf"$K$ = {K_values[k]}")
        ax.set_xlim(-1.97, 102.97)
        ax.set_ylim(0.4, 1.0)
        ax.set_xticks([0, 25, 50, 75, 100])
        ax.set_yticks([0.4, 0.5, 0.6, 0.7, 0.8, 0.9, 1.0])
        ax.grid(True, color="#e6e6e6", lw=0.6)
        ax.set_axisbelow(True)
        for s in ("top", "right"):
            ax.spines[s].set_visible(False)
        for s in ("left", "bottom"):
            ax.spines[s].set_linewidth(1.0)
        ax.tick_params(labelsize=6, length=2, width=0.5, direction="in", pad=2)
        ax.set_title(rf"$\alpha$ = {alpha}, frequency = {freq}", fontsize=10, pad=3)
        ax.set_xlabel("Learning step", fontsize=7.5, labelpad=2)
        ax.set_ylabel("Accuracy", fontsize=7.5, labelpad=3)
        if r == 0 and c == 0:
            leg = ax.legend(loc="upper left", fontsize=5.5, handlelength=2.6,
                            fancybox=False, framealpha=1, edgecolor="black",
                            borderaxespad=0.2, labelspacing=0.25, borderpad=0.4)
            leg.get_frame().set_linewidth(0.8)

fig.savefig("out.png", dpi=100)
